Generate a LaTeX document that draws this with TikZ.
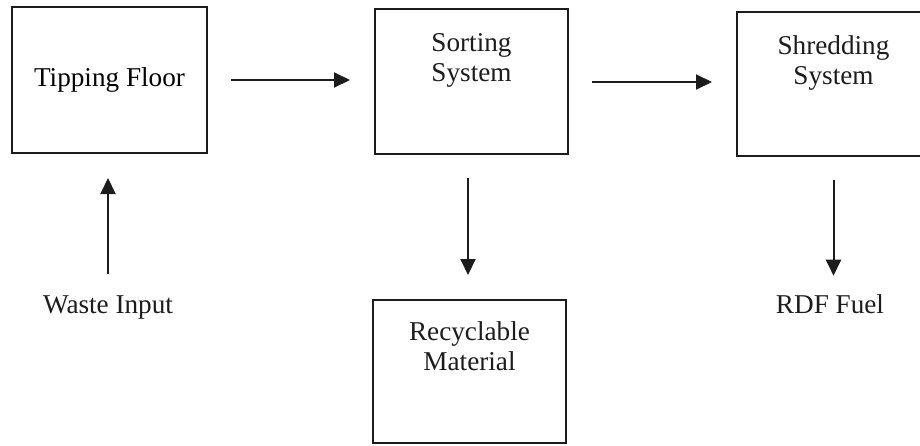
\documentclass[tikz,border=0pt]{standalone}
\usepackage{fontspec}
\setmainfont{Liberation Serif}
\usetikzlibrary{arrows.meta,positioning}
\definecolor{rdfink}{RGB}{28,28,28}
\tikzset{
  stagebox/.style={draw=rdfink, line width=1pt, fill=white, inner sep=0pt,
    font=\fontsize{13.6}{15}\selectfont},
  stagetxt/.style={inner sep=0pt, align=center, text=rdfink,
    font=\fontsize{13.6}{15}\selectfont},
  flow/.style={-{Triangle[length=8pt,width=7.5pt]}, line width=1pt, rdfink,
    shorten <=11.5pt, shorten >=12pt}
}
\begin{document}
\begin{tikzpicture}[x=0.5pt,y=-0.5pt]
  \path[use as bounding box, clip] (0,0) rectangle (920,445);
  % stages
  \node[stagebox, minimum width=97.5pt, minimum height=73pt] (tipfloor) at (109.5,80) {Tipping Floor};
  \node[stagebox, minimum width=96.5pt, minimum height=72.5pt] (sorting) at (471.5,81.5) {};
  \node[stagetxt] (sortingtxt) at (471.5,60) {Sorting\\System};
  \node[stagebox, minimum width=96.5pt, minimum height=72pt] (shredding) at (833.5,84) {};
  \node[stagetxt] (shreddingtxt) at (833.5,62.5) {Shredding\\System};
  \node[stagebox, minimum width=96.5pt, minimum height=71.5pt] (recyclable) at (469.5,371.5) {};
  \node[stagetxt] (recyclabletxt) at (469.5,346) {Recyclable\\Material};
  % inputs and outputs
  \node[stagetxt, anchor=base] (waste) at (108,313) {Waste Input};
  \node[stagetxt, anchor=base] (rdf) at (830,313) {RDF Fuel};
  % flows
  \draw[flow] (tipfloor.east) -- (tipfloor.east -| sorting.west);
  \draw[flow] (sorting.east |- 0,82) -- (shredding.west |- 0,82);
  \draw[flow, shorten <=10.5pt] (waste.north) -- (waste.north |- tipfloor.south);
  \draw[flow] (sorting.south -| 468,0) -- (recyclable.north -| 468,0);
  \draw[flow, shorten >=9pt] (shredding.south) -- (shredding.south |- rdf.north);
\end{tikzpicture}
\end{document}
